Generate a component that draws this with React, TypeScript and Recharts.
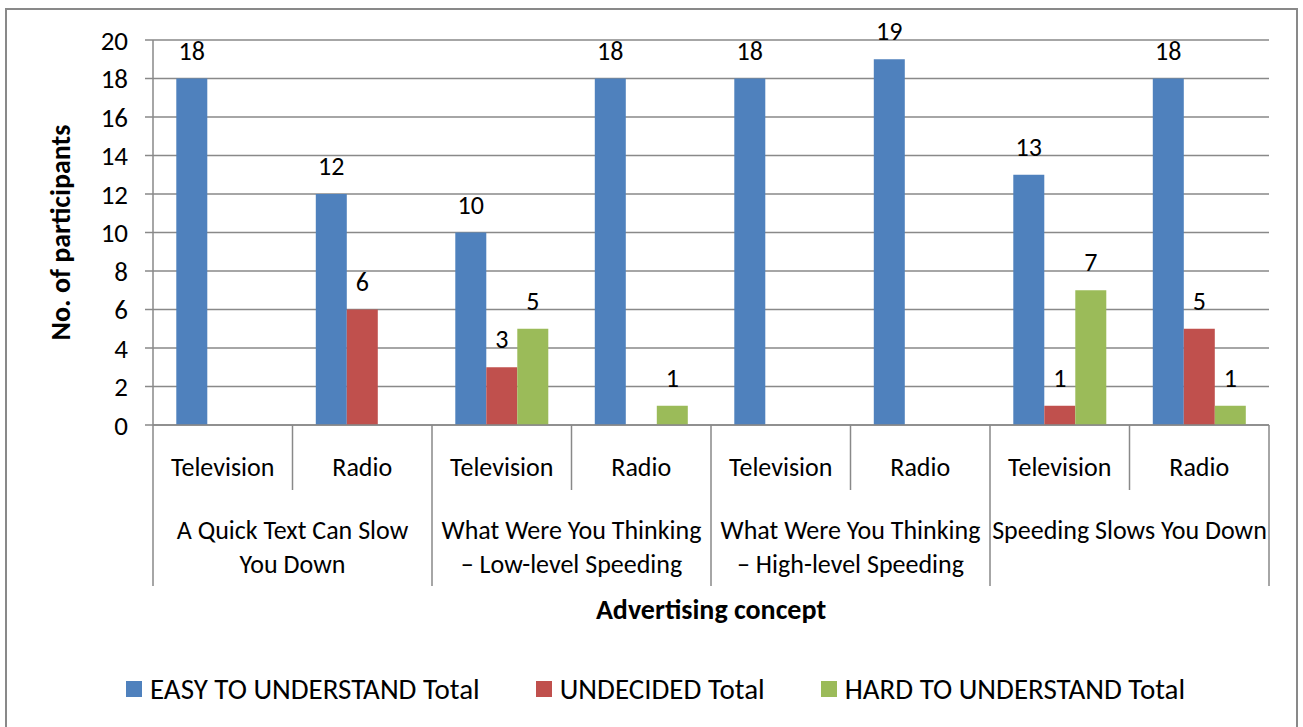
import {
  Bar,
  BarChart,
  CartesianGrid,
  LabelList,
  Legend,
  XAxis,
  YAxis,
} from "recharts";

const FONT = "Carlito, Calibri, Lato, sans-serif";
const AXIS_GRAY = "#898989";

const media = [
  "Television",
  "Radio",
  "Television",
  "Radio",
  "Television",
  "Radio",
  "Television",
  "Radio",
];

const concepts = [
  ["A Quick Text Can Slow", "You Down"],
  ["What Were You Thinking", "– Low-level Speeding"],
  ["What Were You Thinking", "– High-level Speeding"],
  ["Speeding Slows You Down"],
];

const easyTotals = [18, 12, 10, 18, 18, 19, 13, 18];
const undecidedTotals = [null, 6, 3, null, null, null, 1, 5];
const hardTotals = [null, null, 5, 1, null, null, 7, 1];

const yTicks = [0, 2, 4, 6, 8, 10, 12, 14, 16, 18, 20];

const series = [
  { key: "easy", name: "EASY TO UNDERSTAND Total", color: "#4F81BD" },
  { key: "undecided", name: "UNDECIDED Total", color: "#C0504D" },
  { key: "hard", name: "HARD TO UNDERSTAND Total", color: "#9BBB59" },
];

const data = media.map((medium, i) => ({
  medium,
  concept: concepts[Math.floor(i / 2)],
  easy: easyTotals[i],
  undecided: undecidedTotals[i],
  hard: hardTotals[i],
}));

type TickProps = {
  x?: number;
  y?: number;
  index?: number;
  payload?: { value: string; offset?: number; index?: number };
};

// two-level category axis: medium on the first row, concept below it
function MediumTick({ x = 0, y = 0, index = 0, payload }: TickProps) {
  const half = payload?.offset ?? 0;
  const isFirstOfGroup = index % 2 === 0;
  const concept = concepts[Math.floor(index / 2)];

  return (
    <g>
      <text
        x={x}
        y={y + 51}
        textAnchor="middle"
        fontSize={26}
        fontFamily={FONT}
        fill="#000"
      >
        {payload?.value}
      </text>

      {index === 0 && (
        <line
          x1={x - half}
          x2={x - half}
          y1={y}
          y2={y + 161}
          stroke={AXIS_GRAY}
          strokeWidth={1.5}
        />
      )}

      <line
        x1={x + half}
        x2={x + half}
        y1={y}
        y2={y + (isFirstOfGroup ? 65 : 161)}
        stroke={AXIS_GRAY}
        strokeWidth={1.5}
      />

      {isFirstOfGroup && (
        <text
          x={x + half}
          y={y + 114}
          textAnchor="middle"
          fontSize={26}
          fontFamily={FONT}
          fill="#000"
        >
          {concept.map((line, i) => (
            <tspan key={i} x={x + half} dy={i === 0 ? 0 : 34}>
              {line}
            </tspan>
          ))}
        </text>
      )}
    </g>
  );
}

type TitleProps = {
  viewBox?: { x: number; y: number; width: number; height: number };
};

function YTitle({ viewBox }: TitleProps) {
  if (!viewBox) return null;
  const cx = viewBox.x + 53;
  const cy = viewBox.y + viewBox.height / 2;
  return (
    <text
      x={cx}
      y={cy}
      transform={`rotate(-90 ${cx} ${cy})`}
      textAnchor="middle"
      dominantBaseline="central"
      fontSize={28}
      fontWeight="bold"
      fontFamily={FONT}
      fill="#000"
    >
      No. of participants
    </text>
  );
}

type LegendEntry = { value?: string; color?: string };

function ChartLegend({ payload }: { payload?: LegendEntry[] }) {
  const entries = series
    .map((s) => (payload ?? []).find((p) => p.value === s.name))
    .filter((p): p is LegendEntry => Boolean(p));

  return (
    <div
      style={{
        display: "flex",
        justifyContent: "flex-start",
        alignItems: "center",
        gap: 56,
        height: 40,
        paddingLeft: 119,
        fontFamily: FONT,
        fontSize: 29,
        color: "#000",
      }}
    >
      {entries.map((entry) => (
        <div
          key={entry.value}
          style={{ display: "flex", alignItems: "center", gap: 8 }}
        >
          <span
            style={{
              display: "inline-block",
              width: 16,
              height: 16,
              background: entry.color,
            }}
          />
          <span>{entry.value}</span>
        </div>
      ))}
    </div>
  );
}

export default function App() {
  return (
    <div
      style={{
        position: "absolute",
        left: 5,
        top: 8,
        width: 1293,
        height: 740,
        border: `2px solid ${AXIS_GRAY}`,
        boxSizing: "border-box",
        background: "#fff",
      }}
    >
      <BarChart
        width={1289}
        height={716}
        data={data}
        margin={{ top: 30, right: 27, bottom: 17, left: 0 }}
        barCategoryGap="16.7%"
        barGap={0}
      >
        <CartesianGrid
          vertical={false}
          stroke={AXIS_GRAY}
          strokeWidth={1.5}
        />

        <XAxis
          dataKey="medium"
          height={244}
          interval={0}
          tickLine={false}
          tickSize={0}
          tickMargin={0}
          axisLine={{ stroke: AXIS_GRAY, strokeWidth: 1.5 }}
          tick={<MediumTick />}
          label={{
            value: "Advertising concept",
            position: "insideBottom",
            offset: 50,
            fontSize: 28,
            fontWeight: "bold",
            fontFamily: FONT,
            fill: "#000",
          }}
        />

        <YAxis
          width={146}
          domain={[0, 20]}
          ticks={yTicks}
          interval={0}
          tickSize={8}
          tickMargin={17}
          tickLine={{ stroke: AXIS_GRAY, strokeWidth: 1.5 }}
          axisLine={{ stroke: AXIS_GRAY, strokeWidth: 1.5 }}
          tick={{ fontSize: 27, fontFamily: FONT, fill: "#000" }}
          label={<YTitle />}
        />

        <Legend
          verticalAlign="bottom"
          content={<ChartLegend />}
          wrapperStyle={{ height: 40, left: 0, width: 1289 }}
        />

        {series.map((s) => (
          <Bar
            key={s.key}
            dataKey={s.key}
            name={s.name}
            fill={s.color}
            isAnimationActive={false}
          >
            <LabelList
              dataKey={s.key}
              position="top"
              offset={19}
              fontSize={26}
              fontFamily={FONT}
              fill="#000"
            />
          </Bar>
        ))}
      </BarChart>
    </div>
  );
}
